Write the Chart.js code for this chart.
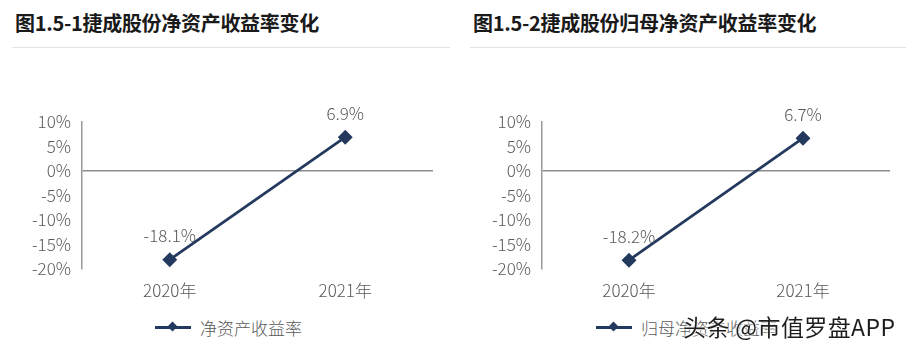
<!DOCTYPE html>
<html>
<head>
<meta charset="utf-8">
<script src="https://cdn.jsdelivr.net/npm/chart.js@4.4.1/dist/chart.umd.min.js"></script>
<style>
  body { margin: 0; width: 914px; height: 352px; background: #fff; position: relative; overflow: hidden;
         font-family: "Noto Sans CJK SC", "Noto Sans", sans-serif; }
  .title { position: absolute; top: 8px; font-size: 20px; font-weight: bold; color: #1a1a1a; letter-spacing: -0.3px; }
  .rule { position: absolute; top: 47px; height: 1px; background: #e3e3e3; }
  .box { position: absolute; top: 90px; width: 457px; height: 222px; }
  .legend { position: absolute; top: 315px; font-size: 17px; font-weight: 300; color: #595959; display: flex; align-items: center; }
  .legend i { display: inline-block; width: 36px; height: 3px; background: #23395d; position: relative; margin-right: 9px; }
  .legend i::after { content: ""; position: absolute; left: 14px; top: -3px; width: 7px; height: 7px; background: #23395d; transform: rotate(45deg); }
  .mark { position: absolute; left: 683px; top: 309px; font-size: 23px; color: #1e1e1e; letter-spacing: 0.4px;
          text-shadow: 0 0 2px #fff, 0 0 2px #fff, 0 0 3px #fff; }
</style>
</head>
<body>
<div class="title" style="left:15px">图1.5-1捷成股份净资产收益率变化</div>
<div class="rule" style="left:12px;width:438px"></div>
<div class="title" style="left:473px">图1.5-2捷成股份归母净资产收益率变化</div>
<div class="rule" style="left:470px;width:436px"></div>

<div class="box" style="left:0"><canvas id="c1"></canvas></div>
<div class="box" style="left:457px"><canvas id="c2"></canvas></div>

<div class="legend" style="left:155px"><i></i>净资产收益率</div>
<div class="legend" style="left:596px"><i></i>归母净资产收益率</div>
<div class="mark">头条 @市值罗盘APP</div>

<script>
const years = ['2020年', '2021年'];
const roe = [-18.1, 6.9];
const roeParent = [-18.2, 6.7];
const yTicks = [-20, -15, -10, -5, 0, 5, 10];

const navy = '#23395d';
const grey = '#595959';
const font = { size: 17, weight: 300, family: '"Noto Sans CJK SC", sans-serif' };

const valueLabels = {
  id: 'valueLabels',
  afterDatasetsDraw(chart) {
    const ctx = chart.ctx;
    const meta = chart.getDatasetMeta(0);
    ctx.save();
    ctx.font = '300 17px "Noto Sans CJK SC", sans-serif';
    ctx.fillStyle = grey;
    ctx.textAlign = 'center';
    ctx.textBaseline = 'middle';
    meta.data.forEach((pt, i) => {
      ctx.fillText(chart.data.datasets[0].data[i] + '%', pt.x, pt.y - 24);
    });
    ctx.restore();
  }
};

function makeChart(id, label, values, axisLeft) {
  new Chart(document.getElementById(id), {
    type: 'line',
    data: {
      labels: years,
      datasets: [{
        label: label,
        data: values,
        borderColor: navy,
        backgroundColor: navy,
        borderWidth: 2.8,
        pointStyle: 'rectRot',
        pointRadius: 5.5,
        pointHoverRadius: 5.5
      }]
    },
    options: {
      responsive: false,
      animation: false,
      maintainAspectRatio: false,
      layout: { padding: { top: 32, right: 24, left: 0, bottom: 0 } },
      plugins: { legend: { display: false }, tooltip: { enabled: false } },
      scales: {
        x: {
          offset: true,
          grid: { display: false, drawTicks: false },
          border: { display: false },
          ticks: { color: grey, font: font, padding: 11 },
          afterFit: s => { s.height = 43; }
        },
        y: {
          min: -20, max: 10,
          afterBuildTicks: s => { s.ticks = yTicks.map(v => ({ value: v })); },
          grid: {
            drawTicks: false,
            color: c => c.tick && c.tick.value === 0 ? '#8c8c8c' : 'rgba(0,0,0,0)',
            lineWidth: 1.5
          },
          border: { color: '#9a9a9a', width: 1.5 },
          ticks: { color: grey, padding: 11, font: font, callback: v => v + '%' },
          afterFit: s => { s.width = axisLeft; }
        }
      }
    },
    plugins: [valueLabels]
  });
}

['c1', 'c2'].forEach(id => {
  document.getElementById(id).width = 457;
  document.getElementById(id).height = 222;
});
makeChart('c1', '净资产收益率', roe, 82);
makeChart('c2', '归母净资产收益率', roeParent, 85);
</script>
</body>
</html>
